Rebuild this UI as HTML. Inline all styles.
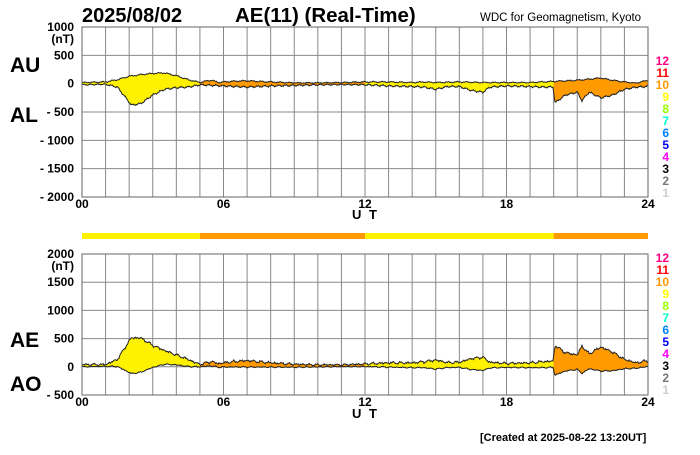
<!DOCTYPE html><html><head><meta charset="utf-8"><style>
body{margin:0;background:#fff;width:700px;height:450px;overflow:hidden}
svg{font-family:"Liberation Sans",Arial,sans-serif;font-weight:bold}
</style></head><body>
<svg id="s" width="700" height="450" xmlns="http://www.w3.org/2000/svg">
<text x="82" y="22" font-size="20">2025/08/02</text>
<text x="235" y="22" font-size="20.5">AE(11) (Real-Time)</text>
<text x="480" y="21" font-size="11.5" font-weight="normal">WDC for Geomagnetism, Kyoto</text>
<text x="10" y="72" font-size="21">AU</text>
<text x="10" y="122" font-size="21">AL</text>
<text x="10" y="347" font-size="21">AE</text>
<text x="10" y="391" font-size="21">AO</text>
<g id="g"></g>
<text x="352" y="219" font-size="13" letter-spacing="2">U T</text>
<text x="352" y="418" font-size="13" letter-spacing="2">U T</text>
<text x="480" y="441" font-size="11">[Created at 2025-08-22 13:20UT]</text>
</svg>
<script>
const g=document.getElementById('g');let h='';
const X0=82,X1=648,W=X1-X0,hx=t=>X0+t*W/24;
function seg(t){return (t<5||(t>=12&&t<20))?'#fff200':'#ff9a00';}
function grid(top,bot,n){for(let i=0;i<=24;i++){h+=`<line x1="${hx(i)}" y1="${top}" x2="${hx(i)}" y2="${bot}" stroke="#888" stroke-width="1"/>`;}
for(let j=0;j<=n;j++){let y=top+(bot-top)*j/n;h+=`<line x1="${X0}" y1="${y}" x2="${X1}" y2="${y}" stroke="#888"/>`;}}
grid(27,197,6);grid(254,395,5);
function lab(top,bot,vals){vals.forEach((v,j)=>{let y=top+(bot-top)*j/(vals.length-1);h+=`<text x="74" y="${y+4}" font-size="12" text-anchor="end">${v}</text>`;});}
lab(27,197,['1000','500','0','- 500','- 1000','- 1500','- 2000']);
lab(254,395,['2000','1500','1000','500','0','- 500']);
h+=`<text x="74" y="43" font-size="12" text-anchor="end">(nT)</text><text x="74" y="270" font-size="12" text-anchor="end">(nT)</text>`;
[197,395].forEach(y=>{[['00',0],['06',6],['12',12],['18',18],['24',24]].forEach(([s,t])=>{h+=`<text x="${hx(t)}" y="${y+11}" font-size="12" text-anchor="middle">${s}</text>`;});});
const kc=['#ff0080','#ff0000','#ff9900','#ffff00','#99ff00','#00ffcc','#0080ff','#0000ff','#ff00ff','#000','#777','#ccc'];
const kl=['12','11','10','9','8','7','6','5','4','3','2','1'];
[61,258].forEach(y0=>{kl.forEach((s,i)=>{h+=`<text x="669" y="${y0+4+i*12}" font-size="12" text-anchor="end" fill="${kc[i]}">${s}</text>`;});});
[[0,5,'#fff200'],[5,12,'#ff9a00'],[12,20,'#fff200'],[20,24,'#ff9a00']].forEach(([a,b,c])=>{h+=`<rect x="${hx(a)}" y="233" width="${hx(b)-hx(a)}" height="6" fill="${c}"/>`;});
const AUp=[[0,20],[1,30],[1.5,70],[2,130],[2.5,160],[3,180],[3.5,190],[4,140],[4.5,70],[5,20],[5.3,50],[5.5,60],[5.8,20],[6,30],[6.5,45],[7,50],[8,30],[9,15],[10,15],[11,20],[12,30],[13,30],[14,20],[14.5,30],[15,20],[16,30],[17,20],[18,20],[19,20],[20,40],[20.5,50],[21,60],[22,100],[22.5,60],[23,30],[23.5,10],[24,60]];
const ALp=[[0,-20],[1,-10],[1.5,-60],[1.8,-220],[2.1,-380],[2.5,-350],[3,-200],[3.5,-100],[4,-70],[4.5,-60],[5,-20],[6,-40],[7,-60],[8,-40],[9,-30],[10,-20],[11,-15],[12,-20],[13,-40],[14,-50],[14.5,-60],[15,-100],[15.5,-50],[16,-50],[16.5,-120],[17,-150],[17.3,-60],[18,-40],[19,-50],[19.5,-60],[19.98,-60],[20.05,-340],[20.5,-200],[21,-150],[21.2,-300],[21.5,-150],[22,-250],[22.5,-200],[23,-100],[23.5,-60],[24,-50]];
function itp(p,t){for(let i=1;i<p.length;i++)if(t<=p[i][0]){let a=p[i-1],b=p[i];return a[1]+(b[1]-a[1])*(t-a[0])/(b[0]-a[0]);}return p[p.length-1][1];}
const N=720,AU=[],AL=[],T=[];
for(let i=0;i<=N;i++){let t=24*i/N;T.push(t);let n1=Math.sin(i*1.7)*6+Math.sin(i*0.53)*8,n2=Math.sin(i*2.3)*8+Math.sin(i*0.71)*12;
let au=itp(AUp,t),al=itp(ALp,t);AU.push(au+n1*Math.min(1,Math.abs(au)/40+0.3));AL.push(al+n2*Math.min(1,Math.abs(al)/40+0.3));}
function band(top,bot,vmax,vmin,A,B){const y=v=>top+(vmax-v)*(bot-top)/(vmax-vmin);
const cuts=[0,5,12,20,24];for(let k=0;k<4;k++){let pts=[],pb=[];for(let i=0;i<=N;i++){let t=T[i];if(t>=cuts[k]-0.001&&t<=cuts[k+1]+0.001){pts.push(hx(t).toFixed(1)+','+y(A[i]).toFixed(1));pb.unshift(hx(t).toFixed(1)+','+y(B[i]).toFixed(1));}}
h+=`<polygon points="${pts.concat(pb).join(' ')}" fill="${seg((cuts[k]+cuts[k+1])/2)}"/>`;}
[A,B].forEach(S=>{h+=`<polyline points="${S.map((v,i)=>hx(T[i]).toFixed(1)+','+y(v).toFixed(1)).join(' ')}" fill="none" stroke="#222" stroke-width="1"/>`;});}
band(27,197,1000,-2000,AU,AL);
const AE=AU.map((v,i)=>v-AL[i]),AO=AU.map((v,i)=>(v+AL[i])/2);
band(254,395,2000,-500,AE,AO);
h+=`<rect x="${X0}" y="27" width="${W}" height="170" fill="none" stroke="#666"/><rect x="${X0}" y="254" width="${W}" height="141" fill="none" stroke="#666"/>`;
g.innerHTML=h;
</script>
</body></html>
